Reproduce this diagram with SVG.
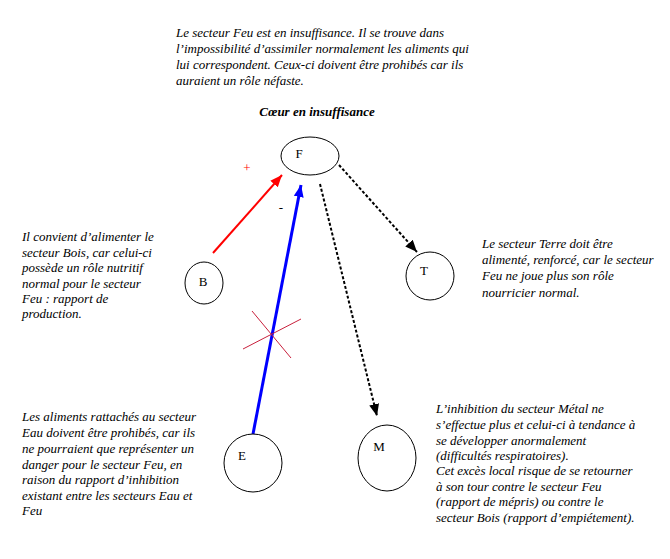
<svg xmlns="http://www.w3.org/2000/svg" width="670" height="559" viewBox="0 0 670 559">
<style>
.t{font-family:"Liberation Serif",serif;font-style:italic;font-size:13px;fill:#000}
.n{fill:none;stroke:#000;stroke-width:1}
.lbl{font-family:"Liberation Serif",serif;font-size:13px;fill:#000;text-anchor:middle}
.dash{stroke:#000;stroke-width:2;stroke-dasharray:3 2;fill:none}
</style>
<defs>
<marker id="ar" markerUnits="userSpaceOnUse" markerWidth="14" markerHeight="12" refX="12" refY="6" orient="auto"><path d="M0,1 L12,6 L0,11 Z" fill="#f00"/></marker>
<marker id="ab" markerUnits="userSpaceOnUse" markerWidth="14" markerHeight="12" refX="12" refY="6" orient="auto"><path d="M0,1 L12,6 L0,11 Z" fill="#00f"/></marker>
<marker id="ak" markerUnits="userSpaceOnUse" markerWidth="14" markerHeight="12" refX="12" refY="6" orient="auto"><path d="M0,1 L12,6 L0,11 Z" fill="#000"/></marker>
</defs>
<rect width="670" height="559" fill="#fff"/>

<g id="intro">
<text class="t" x="176" y="37">Le secteur Feu est en insuffisance. Il se trouve dans</text>
<text class="t" x="176" y="53">l’impossibilité d’assimiler normalement les aliments qui</text>
<text class="t" x="176" y="69">lui correspondent. Ceux-ci doivent être prohibés car ils</text>
<text class="t" x="176" y="85">auraient un rôle néfaste.</text>
</g>
<g id="title"><text class="t" x="317" y="116" text-anchor="middle" font-weight="bold" font-size="12.5">Cœur en insuffisance</text></g>

<g id="connectors">
<line x1="213" y1="253" x2="282" y2="175" stroke="#f00" stroke-width="2" marker-end="url(#ar)"/>
<line x1="253" y1="434" x2="301" y2="185" stroke="#00f" stroke-width="3" marker-end="url(#ab)"/>
<line x1="339" y1="165" x2="417" y2="252" class="dash" marker-end="url(#ak)"/>
<line x1="320" y1="184" x2="377" y2="416" class="dash" marker-end="url(#ak)"/>
<line x1="252" y1="311" x2="291" y2="358" stroke="#c8203c" stroke-width="1"/>
<line x1="243" y1="349" x2="301" y2="319" stroke="#c8203c" stroke-width="1"/>
<text x="247" y="172" font-family="Liberation Serif,serif" font-size="13" fill="#f00" text-anchor="middle">+</text>
<text x="281" y="212" font-family="Liberation Serif,serif" font-size="13" fill="#000" text-anchor="middle">-</text>
</g>

<g id="F"><ellipse class="n" cx="310" cy="156" rx="29" ry="19"/><text class="lbl" x="299" y="158">F</text></g>
<g id="B"><ellipse class="n" cx="204" cy="283" rx="19" ry="21"/><text class="lbl" x="203" y="286">B</text></g>
<g id="T"><ellipse class="n" cx="430" cy="276" rx="24" ry="24"/><text class="lbl" x="424" y="275">T</text></g>
<g id="E"><ellipse class="n" cx="253" cy="463" rx="29" ry="29"/><text class="lbl" x="242" y="460">E</text></g>
<g id="M"><ellipse class="n" cx="387" cy="458" rx="29" ry="33"/><text class="lbl" x="379" y="451">M</text></g>

<g id="noteB">
<text class="t" x="22" y="241">Il convient d’alimenter le</text>
<text class="t" x="22" y="257">secteur Bois, car celui-ci</text>
<text class="t" x="22" y="272">possède un rôle nutritif</text>
<text class="t" x="22" y="288">normal pour le secteur</text>
<text class="t" x="22" y="303">Feu : rapport de</text>
<text class="t" x="22" y="318">production.</text>
</g>
<g id="noteT">
<text class="t" x="482" y="248">Le secteur Terre doit être</text>
<text class="t" x="482" y="264">alimenté, renforcé, car le secteur</text>
<text class="t" x="482" y="280">Feu ne joue plus son rôle</text>
<text class="t" x="482" y="297">nourricier normal.</text>
</g>
<g id="noteE">
<text class="t" x="22" y="421">Les aliments rattachés au secteur</text>
<text class="t" x="22" y="437">Eau doivent être prohibés, car ils</text>
<text class="t" x="22" y="453">ne pourraient que représenter un</text>
<text class="t" x="22" y="469">danger pour le secteur Feu, en</text>
<text class="t" x="22" y="484">raison du rapport d’inhibition</text>
<text class="t" x="22" y="500">existant entre les secteurs Eau et</text>
<text class="t" x="22" y="515">Feu</text>
</g>
<g id="noteM">
<text class="t" x="436" y="413">L’inhibition du secteur Métal ne</text>
<text class="t" x="436" y="429">s’effectue plus et celui-ci à tendance à</text>
<text class="t" x="436" y="445">se développer anormalement</text>
<text class="t" x="436" y="460">(difficultés respiratoires).</text>
<text class="t" x="436" y="475">Cet excès local risque de se retourner</text>
<text class="t" x="436" y="491">à son tour contre le secteur Feu</text>
<text class="t" x="436" y="506">(rapport de mépris) ou contre le</text>
<text class="t" x="436" y="522">secteur Bois (rapport d’empiétement).</text>
</g>
</svg>
